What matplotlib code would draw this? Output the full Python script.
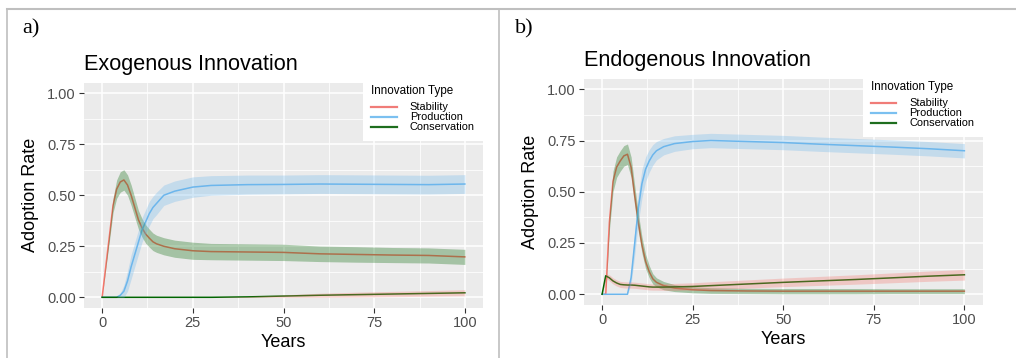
import matplotlib
matplotlib.use("Agg")
import matplotlib.pyplot as plt
from matplotlib.lines import Line2D
import numpy as np

plt.rcParams["font.family"] = ["Liberation Sans", "DejaVu Sans"]

# --- data (years, mean adoption rate, ribbon half-width) ---
years = [0, 1, 2, 3, 4, 5, 6, 7, 8, 9, 10, 11, 12, 13, 14, 15, 17, 20, 25, 30,
         40, 50, 60, 70, 80, 90, 100]

# a) exogenous innovation
stab_a = [0, 0.15, 0.30, 0.45, 0.53, 0.565, 0.575, 0.55, 0.50, 0.44, 0.38, 0.34,
          0.31, 0.29, 0.272, 0.262, 0.25, 0.238, 0.228, 0.224, 0.222, 0.22,
          0.213, 0.21, 0.207, 0.205, 0.198]
stab_a_hw = [0, 0.01, 0.025, 0.035, 0.045, 0.05, 0.05, 0.05, 0.05, 0.048, 0.046,
             0.045, 0.045, 0.044, 0.043, 0.042, 0.042, 0.042, 0.042, 0.04, 0.04,
             0.04, 0.038, 0.038, 0.037, 0.037, 0.037]
prod_a = [0, 0, 0, 0, 0, 0.01, 0.03, 0.08, 0.15, 0.21, 0.27, 0.33, 0.37, 0.41,
          0.44, 0.46, 0.50, 0.52, 0.54, 0.548, 0.552, 0.553, 0.555, 0.554,
          0.553, 0.552, 0.555]
prod_a_hw = [0, 0, 0, 0, 0, 0.01, 0.03, 0.05, 0.06, 0.06, 0.06, 0.06, 0.06, 0.06,
             0.055, 0.055, 0.05, 0.05, 0.05, 0.048, 0.047, 0.046, 0.046, 0.046,
             0.046, 0.046, 0.046]
cons_a = [0, 0, 0, 0, 0, 0, 0, 0, 0, 0, 0, 0, 0, 0, 0, 0, 0, 0, 0, 0, 0.002,
          0.006, 0.01, 0.013, 0.016, 0.019, 0.022]
cons_a_hw = [0, 0, 0, 0, 0, 0, 0, 0, 0, 0, 0, 0, 0, 0, 0, 0, 0, 0, 0, 0, 0.002,
             0.006, 0.01, 0.012, 0.013, 0.014, 0.015]

# b) endogenous innovation
stab_b = [0, 0, 0.35, 0.55, 0.62, 0.65, 0.675, 0.683, 0.62, 0.48, 0.35, 0.24,
          0.16, 0.11, 0.075, 0.058, 0.042, 0.03, 0.022, 0.018, 0.016, 0.015,
          0.015, 0.015, 0.015, 0.015, 0.015]
stab_b_hw = [0, 0, 0.04, 0.05, 0.05, 0.05, 0.05, 0.05, 0.05, 0.05, 0.045, 0.04,
             0.035, 0.03, 0.025, 0.022, 0.02, 0.017, 0.015, 0.014, 0.013, 0.013,
             0.013, 0.013, 0.012, 0.012, 0.012]
prod_b = [0, 0, 0, 0, 0, 0, 0, 0, 0.08, 0.25, 0.42, 0.54, 0.61, 0.65, 0.68, 0.70,
          0.72, 0.735, 0.745, 0.75, 0.745, 0.74, 0.732, 0.725, 0.718, 0.71, 0.70]
prod_b_hw = [0, 0, 0, 0, 0, 0, 0, 0, 0.03, 0.06, 0.07, 0.07, 0.06, 0.055, 0.05,
             0.045, 0.04, 0.038, 0.035, 0.035, 0.035, 0.035, 0.035, 0.035,
             0.035, 0.035, 0.035]
cons_b = [0, 0.09, 0.08, 0.065, 0.055, 0.048, 0.046, 0.045, 0.045, 0.044, 0.042,
          0.04, 0.038, 0.036, 0.035, 0.035, 0.035, 0.036, 0.038, 0.042, 0.05,
          0.058, 0.065, 0.072, 0.08, 0.088, 0.095]
cons_b_hw = [0, 0.01, 0.015, 0.015, 0.015, 0.015, 0.015, 0.015, 0.015, 0.015,
             0.015, 0.015, 0.015, 0.015, 0.015, 0.015, 0.016, 0.017, 0.018,
             0.019, 0.02, 0.021, 0.022, 0.023, 0.024, 0.025, 0.026]

labels = ["Stability", "Production", "Conservation"]
RED, BLUE, GREEN = "#F8766D", "#6CB6EC", "#006400"
BG = "#EBEBEB"

W, H = 1016, 358
fig = plt.figure(figsize=(W / 100, H / 100), dpi=100)


def px_axes(left, top, right, bottom):
    return fig.add_axes([left / W, 1 - bottom / H, (right - left) / W, (bottom - top) / H])


def panel(ax, title, stab, stab_hw, prod, prod_hw, cons, cons_hw):
    t = np.array(years)
    s, p, c = np.array(stab), np.array(prod), np.array(cons)
    ax.set_facecolor(BG)
    # lines first, ribbons on top (ribbon fills are swapped in the original)
    ax.plot(t, s, color=RED, lw=1.1, zorder=3)
    ax.plot(t, p, color=BLUE, lw=1.1, zorder=3)
    ax.plot(t, c, color=GREEN, lw=1.1, zorder=3)
    ax.fill_between(t, s - np.array(stab_hw), s + np.array(stab_hw),
                    color=GREEN, alpha=0.3, lw=0, zorder=4)
    ax.fill_between(t, p - np.array(prod_hw), p + np.array(prod_hw),
                    color=BLUE, alpha=0.3, lw=0, zorder=4)
    ax.fill_between(t, c - np.array(cons_hw), c + np.array(cons_hw),
                    color=RED, alpha=0.3, lw=0, zorder=4)

    ax.set_xlim(-5, 105)
    ax.set_ylim(-0.05, 1.05)
    ax.set_xticks([0, 25, 50, 75, 100])
    ax.set_xticks([12.5, 37.5, 62.5, 87.5], minor=True)
    ax.set_yticks([0, 0.25, 0.5, 0.75, 1.0])
    ax.set_yticklabels(["0.00", "0.25", "0.50", "0.75", "1.00"])
    ax.set_yticks([0.125, 0.375, 0.625, 0.875], minor=True)
    ax.grid(which="major", color="white", lw=1.1, zorder=1)
    ax.grid(which="minor", color="white", lw=0.55, zorder=1)
    ax.set_axisbelow(True)
    for sp in ax.spines.values():
        sp.set_visible(False)
    ax.tick_params(which="major", length=3.5, width=0.8, color="#333333",
                   labelcolor="#4D4D4D", labelsize=10.5, pad=2.5)
    ax.tick_params(which="minor", length=0)
    ax.set_xlabel("Years", fontsize=13, labelpad=3)
    ax.set_ylabel("Adoption Rate", fontsize=13, labelpad=6)
    ax.set_title(title, loc="left", fontsize=15.6, pad=9.5)

    handles = [Line2D([], [], color=col, lw=1.6) for col in ("#F07C78", "#7BC0F0", "#1E6E1E")]
    leg = ax.legend(handles, labels, title="Innovation Type", loc="upper right",
                    bbox_to_anchor=(1, 1.028), borderaxespad=0, fontsize=7.9,
                    title_fontsize=8.4, labelspacing=0.0, handlelength=2.3,
                    handleheight=0.5, handletextpad=1.2, borderpad=0.75,
                    alignment="left", frameon=True, fancybox=False)
    leg._legend_box.sep = 4  # gap between legend title and keys
    leg.get_frame().set_facecolor("white")
    leg.get_frame().set_edgecolor("none")
    leg.get_frame().set_alpha(1)
    leg.set_zorder(10)


ax_a = px_axes(84, 83, 483, 307.5)
panel(ax_a, "Exogenous Innovation", stab_a, stab_a_hw, prod_a, prod_a_hw, cons_a, cons_a_hw)
ax_b = px_axes(584, 79, 982.5, 304.5)
panel(ax_b, "Endogenous Innovation", stab_b, stab_b_hw, prod_b, prod_b_hw, cons_b, cons_b_hw)

# panel letters and table borders
fig.text(22 / W, 1 - 33 / H, "a)", fontsize=16, family="Liberation Serif", va="baseline")
fig.text(515 / W, 1 - 33 / H, "b)", fontsize=16, family="Liberation Serif", va="baseline")
border = "#BFBFBF"
fig.add_artist(Line2D([6.5 / W, 1], [1 - 9 / H, 1 - 9 / H], color=border, lw=1.5))
fig.add_artist(Line2D([6.5 / W, 6.5 / W], [0, 1 - 9 / H], color=border, lw=1.2))
fig.add_artist(Line2D([498.5 / W, 498.5 / W], [0, 1 - 9 / H], color=border, lw=1.2))

fig.savefig("out.png", dpi=100)
